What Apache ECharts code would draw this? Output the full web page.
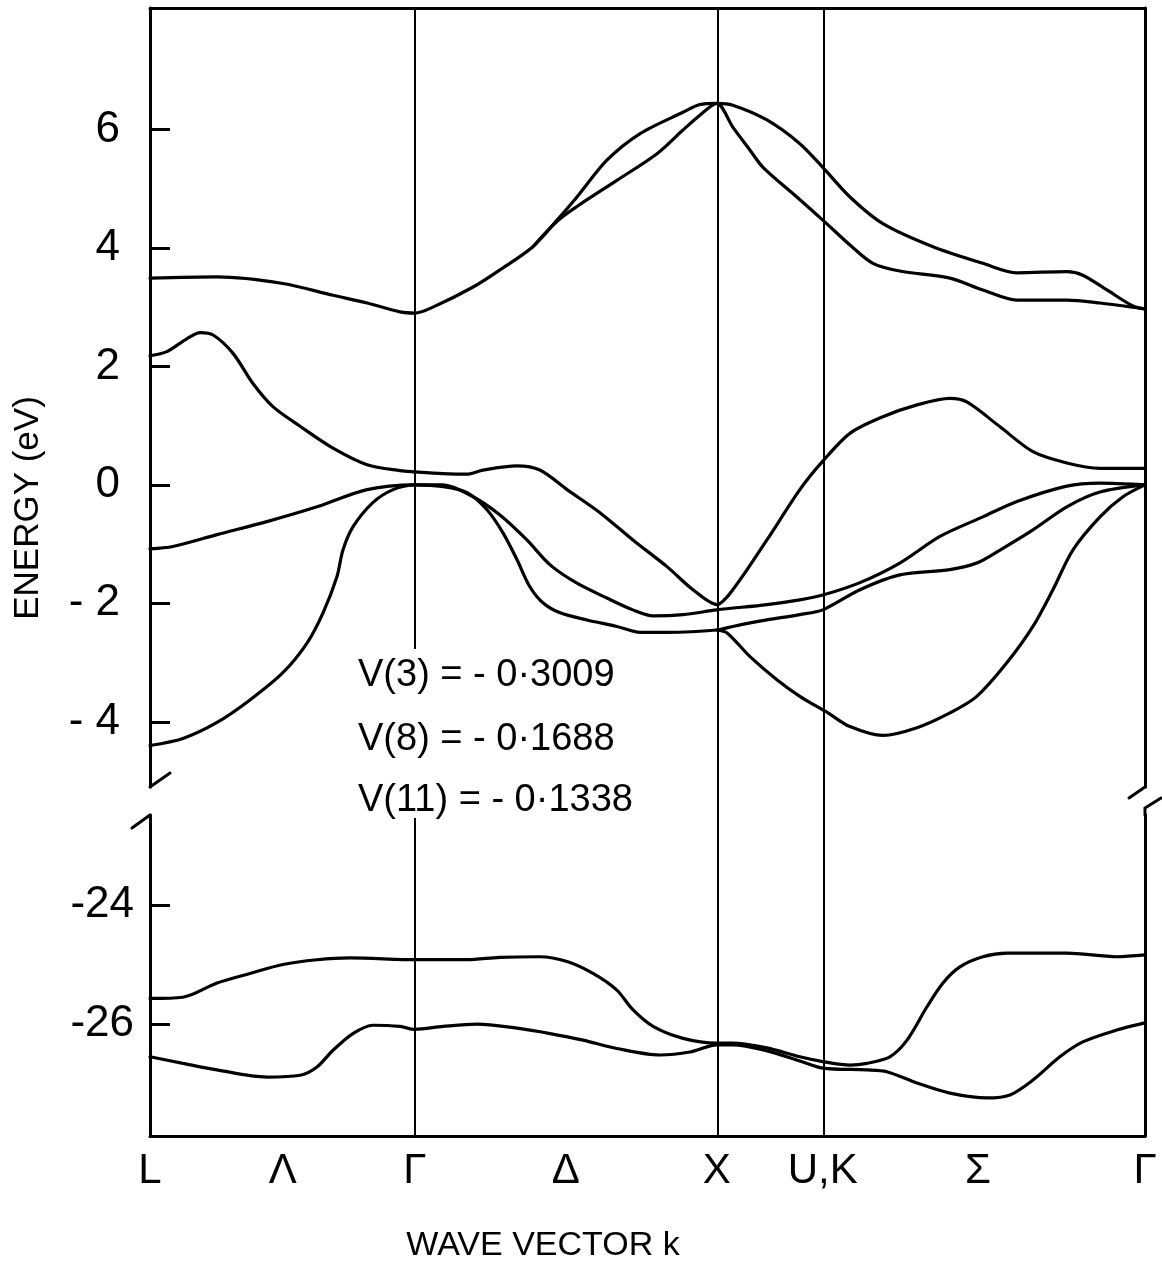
<!DOCTYPE html>
<html>
<head>
<meta charset="utf-8">
<title>Band structure</title>
<script src="https://cdn.jsdelivr.net/npm/echarts/dist/echarts.min.js"></script>
<style>
html,body{margin:0;padding:0;background:#fff;}
#main{width:1162px;height:1273px;}
</style>
</head>
<body>
<div id="main"></div>
<script>
// high symmetry points along the path (k, scaled)
var kSym = [0, 0.877, 1.877, 2.228, 3.295];
var kLabelPos = [0, 0.44, 0.877, 1.377, 1.877, 2.228, 2.742, 3.295];
var kLabels = ['L', 'Λ', 'Γ', 'Δ', 'X', 'U,K', 'Σ', 'Γ'];
var upperTicks = [-4, -2, 0, 2, 4, 6];
var lowerTicks = [-26, -24];
var upperRange = [-5.1, 8.05];
var lowerRange = [-27.88, -22.49];
var gammaLineEnd = -2.77;     // upper Γ line stops above the text
var gammaLineStart = -22.54;  // lower Γ line
var potentials = ['V(3) = - 0·3009', 'V(8) = - 0·1688', 'V(11) = - 0·1338'];

// conduction bands
var band1 = [[0,3.49],[0.222,3.51],[0.440,3.40],[0.606,3.20],[0.719,3.07],[0.828,2.92],[0.877,2.90],[0.937,3.00],[1.070,3.34],[1.159,3.63],[1.268,4.02],[1.348,4.47],[1.414,4.86],[1.513,5.48],[1.623,5.93],[1.765,6.29],[1.821,6.42],[1.877,6.44],[1.930,6.41],[2.043,6.16],[2.152,5.76],[2.228,5.36],[2.318,4.86],[2.427,4.41],[2.593,4.02],[2.758,3.74],[2.871,3.58],[3.036,3.60],[3.089,3.54],[3.169,3.29],[3.255,3.02],[3.295,2.97]];
var band2 = [[1.268,4.02],[1.348,4.45],[1.414,4.70],[1.546,5.14],[1.679,5.59],[1.765,5.99],[1.821,6.24],[1.877,6.44],[1.930,6.04],[1.987,5.65],[2.030,5.36],[2.142,4.86],[2.228,4.47],[2.318,4.05],[2.394,3.74],[2.483,3.61],[2.649,3.49],[2.758,3.29],[2.871,3.12],[3.036,3.12],[3.146,3.07],[3.295,2.97]];
var band3 = [[0,2.18],[0.056,2.25],[0.123,2.47],[0.166,2.57],[0.209,2.53],[0.275,2.22],[0.341,1.71],[0.407,1.32],[0.497,0.99],[0.606,0.62],[0.719,0.34],[0.828,0.24],[0.877,0.22],[0.970,0.19],[1.050,0.18],[1.103,0.25],[1.215,0.32],[1.291,0.25],[1.381,-0.08],[1.490,-0.47],[1.599,-0.93],[1.712,-1.38],[1.798,-1.77],[1.877,-2.02],[1.930,-1.77],[2.043,-0.93],[2.152,-0.08],[2.228,0.40],[2.318,0.87],[2.427,1.15],[2.540,1.35],[2.649,1.46],[2.705,1.40],[2.815,0.98],[2.924,0.56],[3.036,0.37],[3.146,0.28],[3.295,0.28]];
// valence bands
var band4 = [[0,-1.08],[0.076,-1.04],[0.222,-0.84],[0.387,-0.62],[0.553,-0.37],[0.719,-0.08],[0.877,0.0],[0.970,0.0],[1.070,-0.20],[1.159,-0.51],[1.248,-0.93],[1.325,-1.35],[1.414,-1.66],[1.513,-1.91],[1.599,-2.11],[1.666,-2.21],[1.765,-2.19],[1.877,-2.11],[2.043,-2.02],[2.152,-1.94],[2.228,-1.86],[2.351,-1.65],[2.483,-1.32],[2.616,-0.87],[2.758,-0.54],[2.871,-0.28],[3.036,-0.02],[3.146,0.03],[3.295,0.0]];
var band5 = [[0,-4.40],[0.109,-4.28],[0.222,-4.01],[0.331,-3.63],[0.440,-3.17],[0.520,-2.67],[0.573,-2.16],[0.619,-1.55],[0.639,-1.10],[0.672,-0.71],[0.738,-0.30],[0.805,-0.08],[0.877,0.0],[0.970,-0.03],[1.050,-0.13],[1.116,-0.42],[1.169,-0.81],[1.215,-1.26],[1.258,-1.72],[1.301,-1.99],[1.358,-2.16],[1.447,-2.28],[1.546,-2.39],[1.623,-2.49],[1.712,-2.49],[1.877,-2.45],[1.930,-2.39],[2.043,-2.28],[2.152,-2.19],[2.228,-2.11],[2.351,-1.77],[2.483,-1.52],[2.649,-1.43],[2.738,-1.32],[2.815,-1.10],[2.924,-0.76],[3.036,-0.37],[3.146,-0.12],[3.295,0.0]];
var band6 = [[1.877,-2.45],[1.911,-2.50],[1.987,-2.90],[2.076,-3.29],[2.152,-3.57],[2.245,-3.85],[2.318,-4.08],[2.427,-4.23],[2.540,-4.10],[2.649,-3.85],[2.738,-3.57],[2.838,-3.00],[2.924,-2.39],[2.990,-1.77],[3.056,-1.10],[3.146,-0.54],[3.222,-0.20],[3.295,0.0]];
// low lying bands
var band7 = [[0,-25.57],[0.109,-25.55],[0.222,-25.31],[0.331,-25.15],[0.440,-25.00],[0.553,-24.92],[0.662,-24.89],[0.884,-24.92],[1.050,-24.92],[1.159,-24.88],[1.291,-24.87],[1.381,-24.95],[1.467,-25.15],[1.546,-25.43],[1.599,-25.76],[1.666,-26.04],[1.765,-26.24],[1.877,-26.32],[1.930,-26.32],[2.043,-26.40],[2.152,-26.55],[2.228,-26.63],[2.318,-26.69],[2.374,-26.66],[2.450,-26.55],[2.507,-26.27],[2.573,-25.71],[2.626,-25.31],[2.682,-25.04],[2.758,-24.87],[2.838,-24.81],[3.036,-24.81],[3.202,-24.87],[3.295,-24.84]];
var band8 = [[0,-26.55],[0.109,-26.66],[0.222,-26.77],[0.387,-26.89],[0.497,-26.86],[0.553,-26.72],[0.606,-26.44],[0.672,-26.16],[0.738,-26.02],[0.828,-26.04],[0.877,-26.09],[0.970,-26.04],[1.083,-26.00],[1.215,-26.07],[1.325,-26.16],[1.434,-26.27],[1.546,-26.41],[1.689,-26.52],[1.788,-26.47],[1.877,-26.35],[1.930,-26.35],[2.043,-26.45],[2.152,-26.62],[2.228,-26.74],[2.374,-26.77],[2.440,-26.80],[2.540,-26.99],[2.649,-27.16],[2.772,-27.24],[2.848,-27.19],[2.924,-26.94],[3.013,-26.55],[3.089,-26.30],[3.202,-26.10],[3.295,-25.98]];

var upperBands = [band1, band2, band3, band4, band5, band6];
var lowerBands = [band7, band8];

var numFont = "'Liberation Sans', 'DejaVu Sans', sans-serif";

var chart = echarts.init(document.getElementById('main'));

function bandSeries(d, gi) {
    return {
        type: 'line',
        xAxisIndex: gi,
        yAxisIndex: gi,
        data: d,
        smooth: 0.3,
        showSymbol: false,
        silent: true,
        lineStyle: { color: '#000', width: 3.2, cap: 'round' }
    };
}

var lineMark = { color: '#000', width: 2, type: 'solid' };

var series = [];
upperBands.forEach(function (b) { series.push(bandSeries(b, 0)); });
lowerBands.forEach(function (b) { series.push(bandSeries(b, 1)); });

// Γ line in both panels
series[0].markLine = {
    silent: true, symbol: ['none', 'none'], label: { show: false }, lineStyle: lineMark,
    data: [[{ coord: [kSym[1], upperRange[1]] }, { coord: [kSym[1], gammaLineEnd] }]]
};
series[upperBands.length].markLine = {
    silent: true, symbol: ['none', 'none'], label: { show: false }, lineStyle: lineMark,
    data: [[{ coord: [kSym[1], gammaLineStart] }, { coord: [kSym[1], lowerRange[0]] }]]
};
// X and U,K lines go through the break
series.push({
    type: 'line', xAxisIndex: 2, yAxisIndex: 2, data: [[0, 0]], showSymbol: false,
    lineStyle: { opacity: 0 }, silent: true,
    markLine: {
        silent: true, symbol: ['none', 'none'], label: { show: false }, lineStyle: lineMark,
        data: [{ xAxis: kSym[2] }, { xAxis: kSym[3] }]
    }
});

var frameLine = { show: true, onZero: false, lineStyle: { color: '#000', width: 3 } };

var option = {
    animation: false,
    backgroundColor: '#fff',
    grid: [
        { left: 150, width: 995, top: 8, height: 779 },
        { left: 150, width: 995, top: 815, height: 321 },
        { left: 150, width: 995, top: 8, height: 1128 }
    ],
    xAxis: [
        { type: 'value', gridIndex: 0, min: kSym[0], max: kSym[4], position: 'top',
          axisLine: frameLine, axisTick: { show: false }, axisLabel: { show: false }, splitLine: { show: false } },
        { type: 'value', gridIndex: 1, min: kSym[0], max: kSym[4], position: 'bottom',
          axisLine: frameLine, axisTick: { show: false }, splitLine: { show: false },
          axisLabel: {
              customValues: kLabelPos, margin: 14, color: '#000', fontSize: 42,
              fontFamily: numFont,
              formatter: function (v) {
                  var best = 0;
                  kLabelPos.forEach(function (p, i) { if (Math.abs(p - v) < Math.abs(kLabelPos[best] - v)) best = i; });
                  return kLabels[best];
              }
          } },
        { type: 'value', gridIndex: 2, min: kSym[0], max: kSym[4], show: false }
    ],
    yAxis: [
        { type: 'value', gridIndex: 0, min: upperRange[0], max: upperRange[1],
          axisLine: frameLine, splitLine: { show: false },
          axisTick: { customValues: upperTicks, inside: true, length: 20, lineStyle: { color: '#000', width: 3 } },
          axisLabel: { customValues: upperTicks, margin: 30, color: '#000', fontSize: 44, fontFamily: numFont,
              formatter: function (v) { return v < 0 ? '- ' + (-v) : String(v); } } },
        { type: 'value', gridIndex: 1, min: lowerRange[0], max: lowerRange[1],
          axisLine: frameLine, splitLine: { show: false },
          axisTick: { customValues: lowerTicks, inside: true, length: 20, lineStyle: { color: '#000', width: 3 } },
          axisLabel: { customValues: lowerTicks, margin: 16, color: '#000', fontSize: 44, fontFamily: numFont,
              formatter: function (v) { return '-' + (-v); } } },
        { type: 'value', gridIndex: 2, min: 0, max: 1, show: false },
        { type: 'value', gridIndex: 0, min: upperRange[0], max: upperRange[1], position: 'right',
          axisLine: frameLine, axisTick: { show: false }, axisLabel: { show: false }, splitLine: { show: false } },
        { type: 'value', gridIndex: 1, min: lowerRange[0], max: lowerRange[1], position: 'right',
          axisLine: frameLine, axisTick: { show: false }, axisLabel: { show: false }, splitLine: { show: false } }
    ],
    series: series
};
chart.setOption(option);

// axis break marks and the texts
var ul = chart.convertToPixel({ gridIndex: 0 }, [kSym[0], upperRange[0]]);
var ur = chart.convertToPixel({ gridIndex: 0 }, [kSym[4], upperRange[0]]);
var ll = chart.convertToPixel({ gridIndex: 1 }, [kSym[0], lowerRange[1]]);
var lr = chart.convertToPixel({ gridIndex: 1 }, [kSym[4], lowerRange[1]]);
var brk = { stroke: '#000', lineWidth: 3, fill: null, lineCap: 'round' };

var graphic = [
    { type: 'polyline', shape: { points: [[ul[0], ul[1]], [ul[0] + 20, ul[1] - 14]] }, style: brk },
    { type: 'polyline', shape: { points: [[ll[0], ll[1]], [ll[0] - 18, ll[1] + 13]] }, style: brk },
    { type: 'polyline', shape: { points: [[ur[0], ur[1]], [ur[0] - 16, ur[1] + 11]] }, style: brk },
    { type: 'polyline', shape: { points: [[lr[0], lr[1]], [lr[0], lr[1] - 7], [lr[0] + 16, lr[1] - 17]] }, style: brk },
    { type: 'text', x: 28, y: 508, rotation: Math.PI / 2,
      style: { text: 'ENERGY (eV)', font: '35px ' + numFont, fill: '#000', align: 'center', verticalAlign: 'middle' } },
    { type: 'text', x: 543, y: 1246,
      style: { text: 'WAVE VECTOR k', font: '34px ' + numFont, fill: '#000', align: 'center', verticalAlign: 'middle' } }
];
var textY = [676, 740, 801];
potentials.forEach(function (t, i) {
    graphic.push({ type: 'text', x: 358, y: textY[i],
        style: { text: t, font: '38px ' + numFont, fill: '#000', align: 'left', verticalAlign: 'middle' } });
});
chart.setOption({ graphic: graphic });

window.addEventListener('resize', function () { chart.resize(); });
</script>
</body>
</html>
